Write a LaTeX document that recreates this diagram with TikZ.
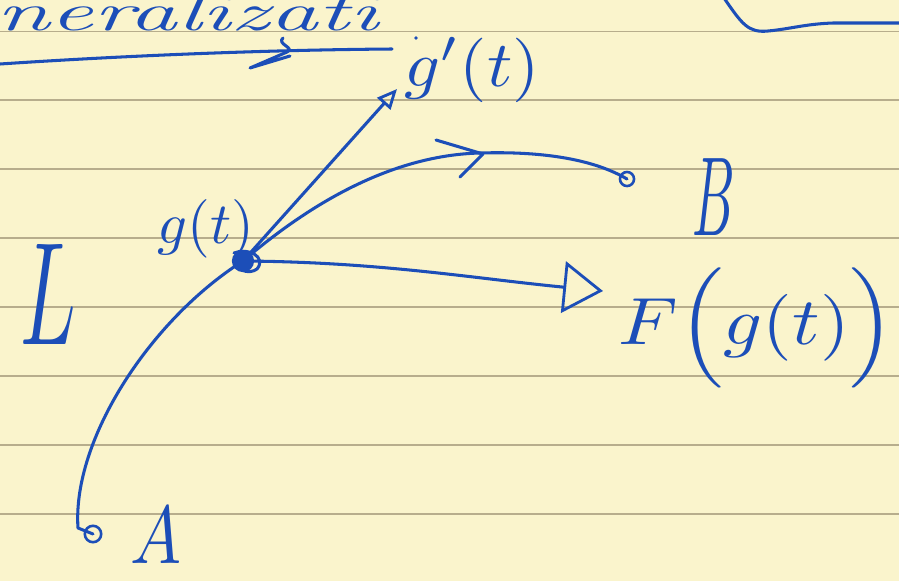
\documentclass[tikz,border=0pt]{standalone}
\usetikzlibrary{arrows.meta}
\definecolor{paper}{RGB}{250,244,204}
\definecolor{rule}{RGB}{183,173,140}
\definecolor{ink}{RGB}{28,78,184}
\begin{document}
\begin{tikzpicture}[x=0.03cm,y=-0.03cm,
  pen/.style={draw=ink,line width=2.6pt,line cap=round,line join=round},
  lbl/.style={text=ink,inner sep=0pt},
  dotring/.style={circle,draw=ink,line width=2.2pt,minimum size=14pt,inner sep=0pt}]
\useasboundingbox (0,0) rectangle (899,581);
\clip (0,0) rectangle (899,581);
\fill[paper] (0,0) rectangle (899,581);
% ruled lines
\foreach \yy in {31.5,100,169,238,307,376,445,514}
  \draw[rule,line width=1.2pt] (0,\yy) -- (899,\yy);

% top handwriting (cut off at the top edge)
\node[lbl,anchor=base west] (title) at (-4,30) {\scalebox{1.8}[1]{\fontsize{46}{46}\selectfont\itshape neralizati}};
\draw[pen] (0,64) .. controls (120,56) and (260,50) .. (392,49);
\draw[pen] (283,38) .. controls (276,44) and (296,48) .. (287,52) -- (250,68) -- (290,56);
\draw[pen] (724,-2) .. controls (742,24) and (748,33) .. (768,31)
  .. controls (790,29) and (805,24) .. (833,23) -- (905,23);
\fill[ink] (416,38) circle (1.6pt);

% points
\coordinate (G) at (243,261);
\node[dotring] (pa) at (93,534) {};
\node[dotring,minimum size=12pt] (pb) at (627,179) {};
\fill[ink] (G) circle (9.5pt);
\draw[pen] (234,253) .. controls (248,247) and (267,257) .. (257,269)
  .. controls (249,275) and (233,271) .. (237,255);

% curve from A through g(t) to B
\draw[pen] (pa.center) -- (78,528) .. controls (72,440) and (150,320) .. (G);
\draw[pen] (G) .. controls (320,195) and (400,155) .. (480,153)
  .. controls (545,151) and (595,160) .. (pb.center);
\coordinate (chev) at (483,154);
\draw[pen] (436,140) -- (chev) -- (460,177);

% tangent g'(t)
\coordinate (gp) at (397,89);
\draw[pen,-{Triangle[open,length=17pt,width=15pt,line width=2.4pt]}] (G) -- (gp);
% F(g(t))
\coordinate (fg) at (603,291);
\draw[pen,-{Triangle[open,length=34pt,width=44pt,line width=2.4pt]}] (G) .. controls (380,262) and (470,278) .. (fg);

% labels
\node[lbl] (lg) at (206,229) {\scalebox{5}{$g(t)$}};
\node[lbl] (lgp) at (472,70) {\scalebox{6}[5.5]{$g'(t)$}};
\node[lbl] (lB) at (714,197) {\scalebox{4.5}[9.6]{$B$}};
\node[lbl] (lA) at (156,535) {\scalebox{5.8}[7]{$A$}};
\node[lbl] (lL) at (48,294) {\scalebox{7}[12.5]{$L$}};
\node[lbl] (lF) at (757,328) {\scalebox{6.5}[5.7]{$F\Bigl(g(t)\Bigr)$}};
\end{tikzpicture}
\end{document}
